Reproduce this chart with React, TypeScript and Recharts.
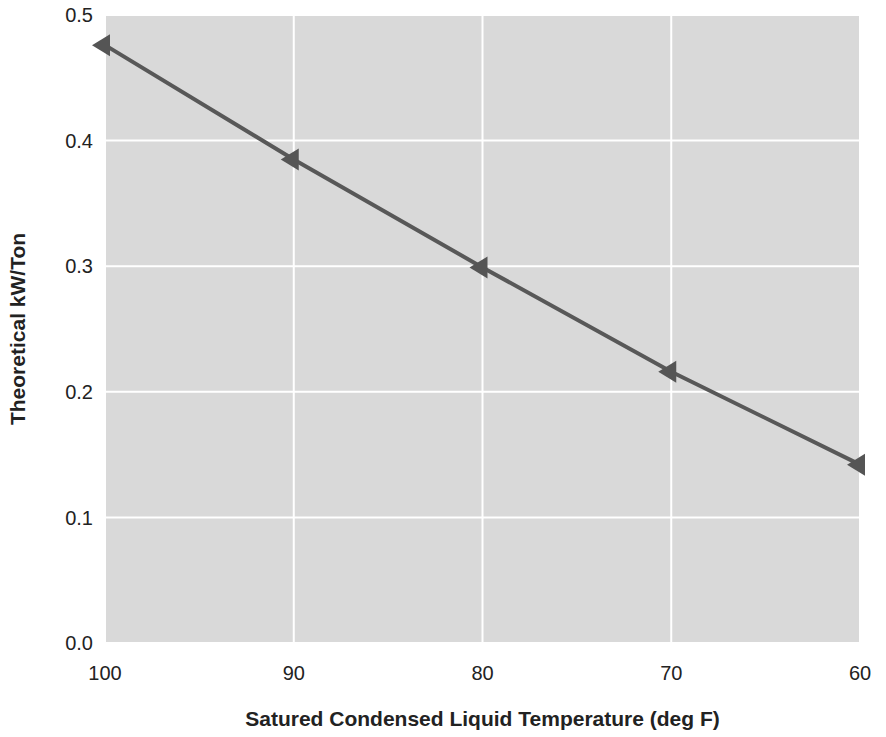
import React from "react";
import { LineChart, Line, XAxis, YAxis, CartesianGrid, Label } from "recharts";

const temps = [100, 90, 80, 70, 60];
const kwPerTon = [0.476, 0.385, 0.299, 0.216, 0.142];
const xTicks = [100, 90, 80, 70, 60];
const yTicks = [0, 0.1, 0.2, 0.3, 0.4, 0.5];

const data = temps.map((t, i) => ({ t, v: kwPerTon[i] }));

const FONT = "'Liberation Sans', Arial, Helvetica, sans-serif";

const TriDot = (props: any) => {
  const { cx, cy } = props;
  if (cx == null || cy == null) return null;
  return (
    <path
      d={`M${cx - 13},${cy} L${cx + 5},${cy - 11} L${cx + 5},${cy + 11} Z`}
      fill="#555555"
      stroke="none"
    />
  );
};

export default function App() {
  return (
    <div style={{ position: "absolute", left: 0, top: 0, width: 886, height: 737, background: "#fff" }}>
      <LineChart
        width={886}
        height={737}
        data={data}
        margin={{ top: 15, right: 26, bottom: 34, left: 0 }}
      >
        <CartesianGrid fill="#d9d9d9" stroke="#ffffff" strokeWidth={2} />
        <XAxis
          dataKey="t"
          type="number"
          domain={[60, 100]}
          reversed
          ticks={xTicks}
          axisLine={false}
          tickLine={false}
          tickMargin={17}
          height={60}
          tick={{ fill: "#222", fontSize: 20, fontFamily: FONT }}
        >
          <Label
            value="Satured Condensed Liquid Temperature (deg F)"
            position="bottom"
            offset={8}
            style={{ fill: "#222", fontSize: 21, fontWeight: "bold", fontFamily: FONT }}
          />
        </XAxis>
        <YAxis
          type="number"
          domain={[0, 0.5]}
          ticks={yTicks}
          tickFormatter={(v: number) => v.toFixed(1)}
          axisLine={false}
          tickLine={false}
          tickMargin={6}
          width={105}
          tick={{ fill: "#222", fontSize: 20, fontFamily: FONT }}
        >
          <Label
            value="Theoretical kW/Ton"
            angle={-90}
            position="insideLeft"
            offset={18}
            style={{ fill: "#222", fontSize: 21, fontWeight: "bold", fontFamily: FONT, textAnchor: "middle" }}
          />
        </YAxis>
        <Line
          dataKey="v"
          stroke="#585858"
          strokeWidth={4}
          dot={<TriDot />}
          activeDot={false}
          isAnimationActive={false}
        />
      </LineChart>
    </div>
  );
}
